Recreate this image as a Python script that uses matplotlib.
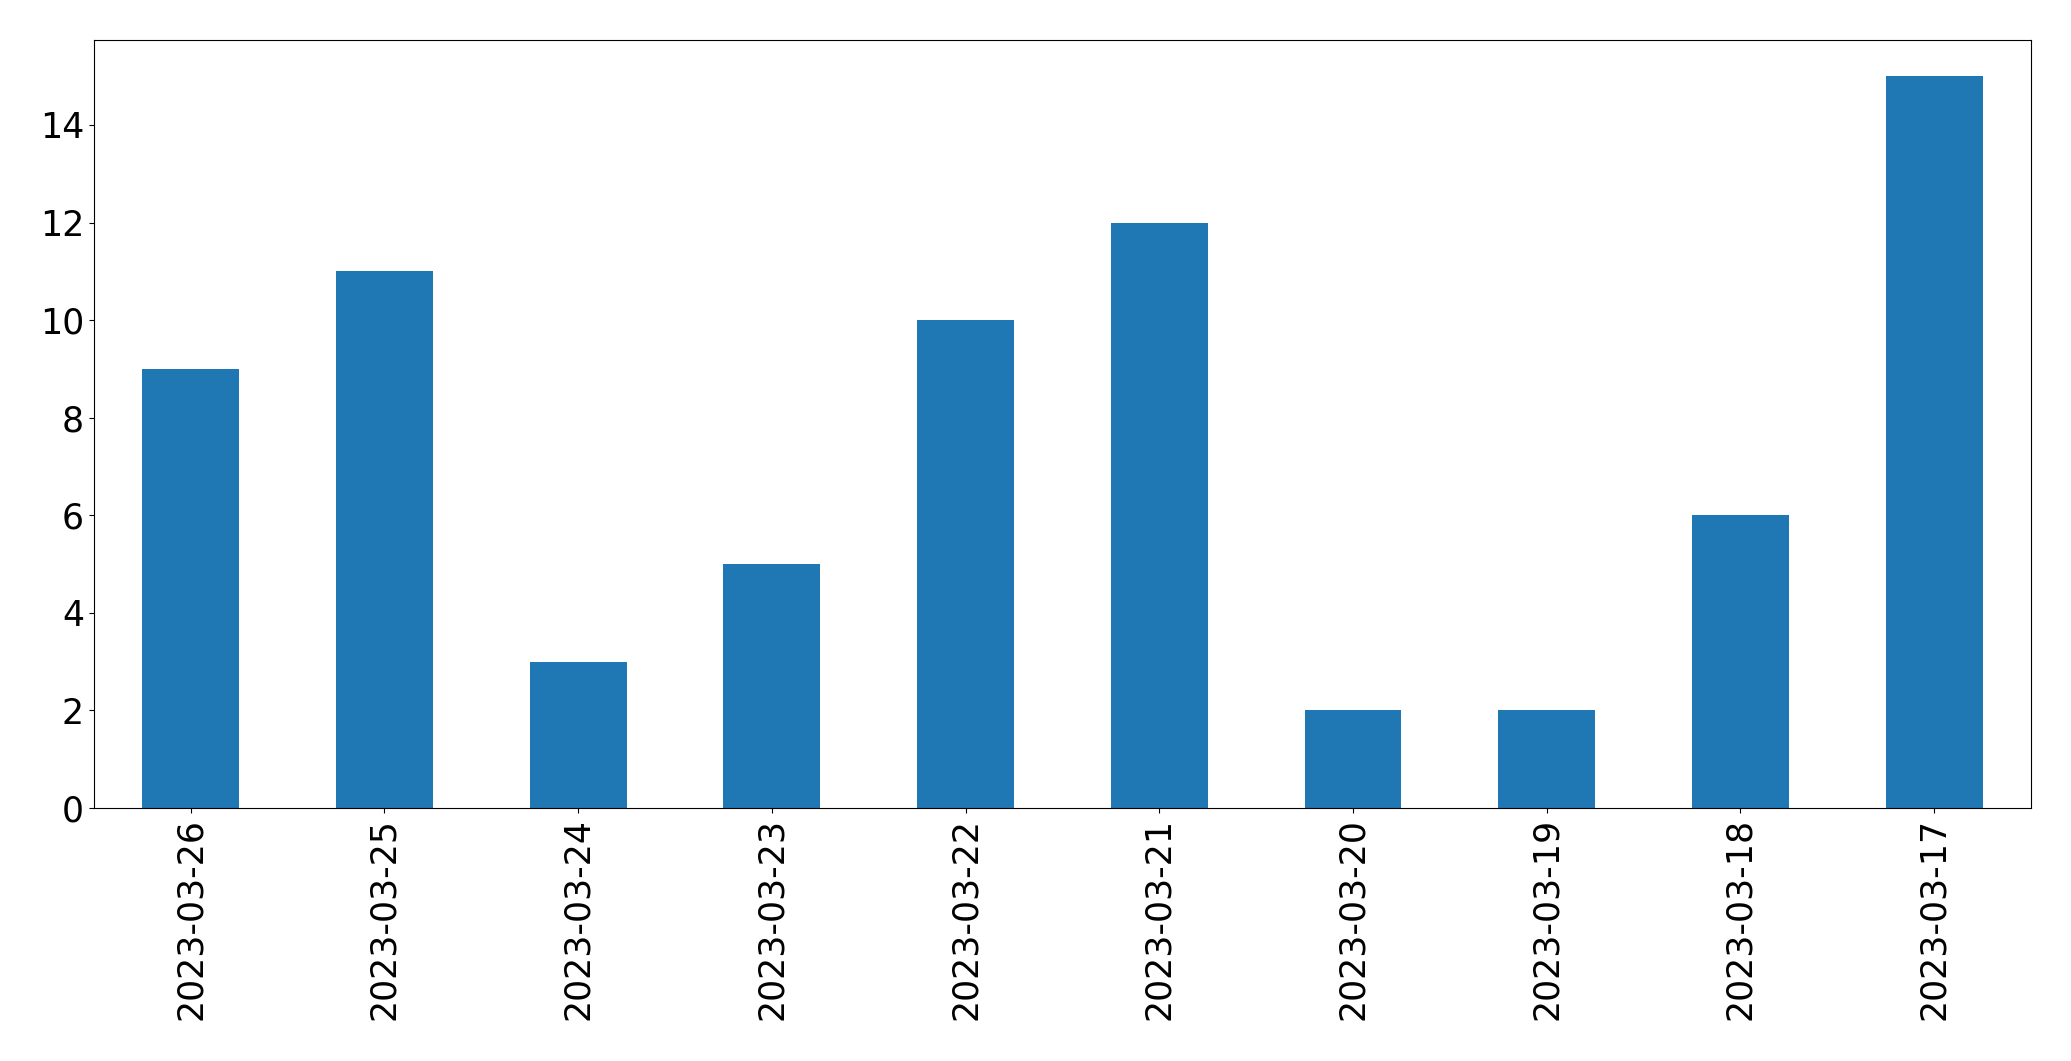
import matplotlib
matplotlib.use("Agg")
import matplotlib.pyplot as plt

dates = ["2023-03-26", "2023-03-25", "2023-03-24", "2023-03-23", "2023-03-22",
         "2023-03-21", "2023-03-20", "2023-03-19", "2023-03-18", "2023-03-17"]
counts = [9, 11, 3, 5, 10, 12, 2, 2, 6, 15]

fig = plt.figure(figsize=(20.71, 10.61), dpi=100)
ax = fig.add_axes([0.0453, 0.2385, 0.9354, 0.7242])
x = range(len(dates))
ax.bar(x, counts, width=0.5, color="#1f77b4")
ax.set_xlim(-0.5, len(dates) - 0.5)
ax.set_ylim(0, 15.75)
ax.set_xticks(list(x))
ax.set_xticklabels(dates, rotation=90)
ax.tick_params(labelsize=25)
fig.savefig("out.png", dpi=100)
